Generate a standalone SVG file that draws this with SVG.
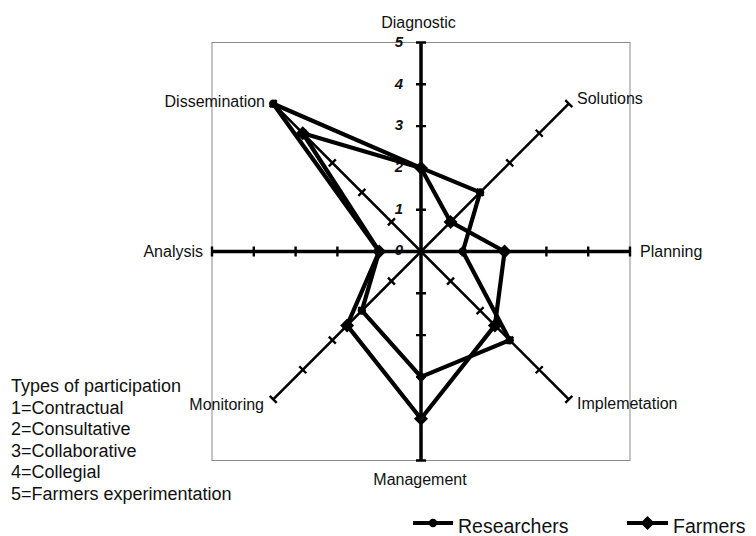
<svg xmlns="http://www.w3.org/2000/svg" xmlns:xlink="http://www.w3.org/1999/xlink" width="756" height="536" viewBox="0 0 756 536">
<style>
.frame{fill:none;stroke:#8a8a8a;stroke-width:1}
.axis{fill:none;stroke:#000;stroke-width:3.5}
.diag{fill:none;stroke:#000;stroke-width:2.6}
.tick{fill:none;stroke:#000;stroke-width:2.4}
.series{fill:none;stroke:#000;stroke-width:4.2;stroke-linejoin:round}
.cat{font-family:"Liberation Sans",Arial,sans-serif;font-size:16px;fill:#111}
.num{font-family:"Liberation Sans",Arial,sans-serif;font-size:15px;font-weight:bold;font-style:italic;fill:#111;text-anchor:end}
.note{font-family:"Liberation Sans",Arial,sans-serif;font-size:18px;fill:#111}
.leg{font-family:"Liberation Sans",Arial,sans-serif;font-size:19.5px;fill:#111}
</style>
<defs>
<circle id="rdot" r="4.2" fill="#000"/>
<path id="fdia" d="M0,-7 L7,0 L0,7 L-7,0Z" fill="#000"/>
</defs>
<rect class="frame" x="212" y="42.5" width="418" height="418"/>
<g id="axes">
<path class="axis" d="M421 42.5V460.5M212 251.5H630"/>
<path class="diag" d="M568.8 103.7L273.2 399.3M273.2 103.7L568.8 399.3"/>
<path class="tick" d="M416 42.5H426M416 84.3H426M416 126.1H426M416 167.9H426M416 209.7H426M416 293.3H426M416 335.1H426M416 376.9H426M416 418.7H426M416 460.5H426"/>
<path class="tick" d="M212 246.5V256.5M253.8 246.5V256.5M295.6 246.5V256.5M337.4 246.5V256.5M379.2 246.5V256.5M462.8 246.5V256.5M504.6 246.5V256.5M546.4 246.5V256.5M588.2 246.5V256.5M630 246.5V256.5"/>
<path class="tick" d="M447.06 218.44L454.06 225.44M476.62 188.88L483.62 195.88M506.18 159.32L513.18 166.32M535.74 129.76L542.74 136.76M565.3 100.2L572.3 107.2M387.94 277.56L394.94 284.56M358.38 307.12L365.38 314.12M328.82 336.68L335.82 343.68M299.26 366.24L306.26 373.24M269.7 395.8L276.7 402.8M447.06 284.56L454.06 277.56M476.62 314.12L483.62 307.12M506.18 343.68L513.18 336.68M535.74 373.24L542.74 366.24M565.3 402.8L572.3 395.8M387.94 225.44L394.94 218.44M358.38 195.88L365.38 188.88M328.82 166.32L335.82 159.32M299.26 136.76L306.26 129.76M269.7 107.2L276.7 100.2"/>
</g>
<g id="scale">
<text class="num" x="403" y="46.5">5</text>
<text class="num" x="403" y="88.5">4</text>
<text class="num" x="403" y="130">3</text>
<text class="num" x="403" y="172">2</text>
<text class="num" x="403" y="214">1</text>
<text class="num" x="403" y="255">0</text>
</g>
<g id="series-researchers">
<polygon class="series" points="421,167.9 480.12,192.38 462.8,251.5 509.68,340.18 421,376.9 361.88,310.62 379.2,251.5 273.2,103.7"/>
<use xlink:href="#rdot" x="421" y="167.9"/>
<use xlink:href="#rdot" x="480.12" y="192.38"/>
<use xlink:href="#rdot" x="462.8" y="251.5"/>
<use xlink:href="#rdot" x="509.68" y="340.18"/>
<use xlink:href="#rdot" x="421" y="376.9"/>
<use xlink:href="#rdot" x="361.88" y="310.62"/>
<use xlink:href="#rdot" x="379.2" y="251.5"/>
<use xlink:href="#rdot" x="273.2" y="103.7"/>
</g>
<g id="series-farmers">
<polygon class="series" points="421,167.9 450.56,221.94 504.6,251.5 494.9,325.4 421,418.7 347.1,325.4 379.2,251.5 302.76,133.26"/>
<use xlink:href="#fdia" x="421" y="167.9"/>
<use xlink:href="#fdia" x="450.56" y="221.94"/>
<use xlink:href="#fdia" x="504.6" y="251.5"/>
<use xlink:href="#fdia" x="494.9" y="325.4"/>
<use xlink:href="#fdia" x="421" y="418.7"/>
<use xlink:href="#fdia" x="347.1" y="325.4"/>
<use xlink:href="#fdia" x="379.2" y="251.5"/>
<use xlink:href="#fdia" x="302.76" y="133.26"/>
</g>
<g id="labels">
<text id="lbl-diagnostic" class="cat" x="418.5" y="28.3" text-anchor="middle">Diagnostic</text>
<text id="lbl-solutions" class="cat" x="577" y="104">Solutions</text>
<text id="lbl-planning" class="cat" x="640" y="257">Planning</text>
<text id="lbl-implementation" class="cat" x="577" y="408.5">Implemetation</text>
<text id="lbl-management" class="cat" x="420" y="485" text-anchor="middle">Management</text>
<text id="lbl-monitoring" class="cat" x="264" y="409.5" text-anchor="end">Monitoring</text>
<text id="lbl-analysis" class="cat" x="203" y="257" text-anchor="end">Analysis</text>
<text id="lbl-dissemination" class="cat" x="265" y="106.5" text-anchor="end">Dissemination</text>
</g>
<g id="notes">
<text class="note" x="11" y="392">Types of participation</text>
<text class="note" x="11" y="413.5">1=Contractual</text>
<text class="note" x="11" y="435">2=Consultative</text>
<text class="note" x="11" y="456.5">3=Collaborative</text>
<text class="note" x="11" y="478">4=Collegial</text>
<text class="note" x="11" y="499.5">5=Farmers experimentation</text>
</g>
<g id="legend">
<path class="series" d="M413 523H453"/>
<use xlink:href="#rdot" x="433" y="523"/>
<text class="leg" x="458" y="532.5">Researchers</text>
<path class="series" d="M627 523H668"/>
<use xlink:href="#fdia" x="647.5" y="523"/>
<text class="leg" x="673" y="532.5">Farmers</text>
</g>
</svg>
